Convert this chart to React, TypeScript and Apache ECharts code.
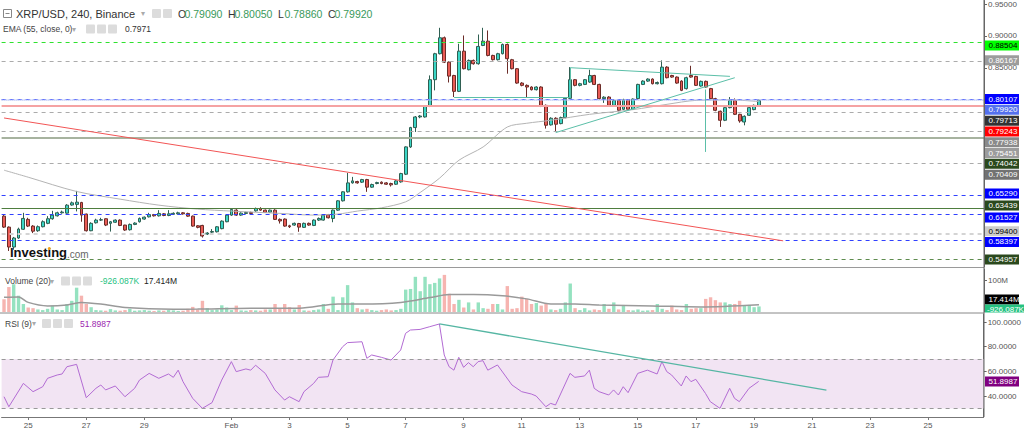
import React, { useEffect, useRef } from 'react';
import * as echarts from 'echarts';

// ---------- axis slots ----------
const SLOT_COUNT = 203; // 4h slots from 2022-01-24 04:00
const START = Date.UTC(2022, 0, 24, 4);
const HOUR4 = 4 * 3600 * 1000;

const tickDates = [
  [0, 25], [0, 27], [0, 29], [1, 1], [1, 3], [1, 5], [1, 7], [1, 9], [1, 11],
  [1, 13], [1, 15], [1, 17], [1, 19], [1, 21], [1, 23], [1, 25],
];
const tickLabels = ['25', '27', '29', 'Feb', '3', '5', '7', '9', '11', '13', '15', '17', '19', '21', '23', '25'];

// ---------- candles: [open, close, low, high] ----------
const candles: number[][] = [
  [0.6176, 0.6004, 0.5990, 0.6208], [0.6004, 0.5692, 0.5630, 0.6015], [0.5692, 0.5833, 0.5650, 0.5850],
  [0.5833, 0.5973, 0.5820, 0.5995], [0.5970, 0.6140, 0.5960, 0.6228], [0.6125, 0.6020, 0.6005, 0.6150],
  [0.6020, 0.5940, 0.5910, 0.6035], [0.5947, 0.6010, 0.5930, 0.6030], [0.6010, 0.6088, 0.6000, 0.6110],
  [0.6063, 0.6135, 0.6050, 0.6176], [0.6135, 0.6192, 0.6120, 0.6259], [0.6181, 0.6228, 0.6170, 0.6245],
  [0.6228, 0.6240, 0.6215, 0.6262], [0.6223, 0.6348, 0.6215, 0.6364], [0.6350, 0.6384, 0.6340, 0.6405],
  [0.6360, 0.6395, 0.6250, 0.6572], [0.6390, 0.6192, 0.6088, 0.6400], [0.6208, 0.5947, 0.5935, 0.6215],
  [0.5947, 0.6063, 0.5940, 0.6080], [0.6072, 0.6114, 0.6060, 0.6135], [0.6114, 0.6120, 0.6100, 0.6150],
  [0.6135, 0.6036, 0.6020, 0.6140], [0.6063, 0.6088, 0.5934, 0.6100], [0.6080, 0.6114, 0.6070, 0.6125],
  [0.6114, 0.6030, 0.6020, 0.6125], [0.6036, 0.5958, 0.5945, 0.6040], [0.5963, 0.6046, 0.5950, 0.6060],
  [0.6046, 0.6067, 0.6035, 0.6080], [0.6088, 0.6140, 0.6075, 0.6155], [0.6130, 0.6160, 0.6120, 0.6170],
  [0.6165, 0.6200, 0.6155, 0.6228], [0.6200, 0.6181, 0.6170, 0.6210], [0.6181, 0.6218, 0.6170, 0.6270],
  [0.6212, 0.6186, 0.6175, 0.6225], [0.6186, 0.6212, 0.6175, 0.6270], [0.6205, 0.6220, 0.6195, 0.6235],
  [0.6212, 0.6228, 0.6200, 0.6245], [0.6228, 0.6212, 0.6200, 0.6240], [0.6218, 0.6176, 0.6165, 0.6230],
  [0.6176, 0.6020, 0.6010, 0.6185], [0.6025, 0.6000, 0.5985, 0.6035], [0.6030, 0.5864, 0.5840, 0.6040],
  [0.5895, 0.5911, 0.5880, 0.5925], [0.5925, 0.5935, 0.5900, 0.5973], [0.5931, 0.6009, 0.5920, 0.6020],
  [0.5980, 0.6098, 0.5970, 0.6110], [0.6088, 0.6192, 0.6080, 0.6205], [0.6192, 0.6281, 0.6180, 0.6295],
  [0.6270, 0.6192, 0.6180, 0.6285], [0.6192, 0.6223, 0.6180, 0.6235], [0.6218, 0.6234, 0.6210, 0.6245],
  [0.6234, 0.6218, 0.6205, 0.6245], [0.6259, 0.6296, 0.6245, 0.6310], [0.6296, 0.6270, 0.6260, 0.6315],
  [0.6270, 0.6234, 0.6225, 0.6280], [0.6239, 0.6270, 0.6230, 0.6280], [0.6270, 0.6125, 0.6115, 0.6285],
  [0.6125, 0.6100, 0.6060, 0.6140], [0.6130, 0.6020, 0.6010, 0.6140], [0.6025, 0.6010, 0.5990, 0.6040],
  [0.6036, 0.6063, 0.6025, 0.6075], [0.6060, 0.6004, 0.5931, 0.6070], [0.6000, 0.6063, 0.5990, 0.6075],
  [0.6063, 0.6036, 0.6025, 0.6075], [0.6030, 0.6114, 0.6020, 0.6125], [0.6114, 0.6140, 0.6100, 0.6155],
  [0.6114, 0.6192, 0.6105, 0.6205], [0.6197, 0.6150, 0.6140, 0.6210], [0.6140, 0.6270, 0.6080, 0.6280],
  [0.6270, 0.6416, 0.6260, 0.6425], [0.6416, 0.6557, 0.6405, 0.6565], [0.6557, 0.6697, 0.6545, 0.6853],
  [0.6697, 0.6728, 0.6685, 0.6791], [0.6718, 0.6697, 0.6685, 0.6730], [0.6708, 0.6749, 0.6695, 0.6760],
  [0.6749, 0.6630, 0.6557, 0.6760], [0.6630, 0.6671, 0.6620, 0.6685], [0.6687, 0.6702, 0.6675, 0.6715],
  [0.6708, 0.6687, 0.6675, 0.6720], [0.6697, 0.6676, 0.6665, 0.6710], [0.6687, 0.6666, 0.6640, 0.6700],
  [0.6676, 0.6728, 0.6665, 0.6740], [0.6713, 0.6843, 0.6700, 0.6855], [0.6833, 0.7261, 0.6820, 0.7270],
  [0.7260, 0.7564, 0.7245, 0.7575], [0.7564, 0.7730, 0.7495, 0.7745], [0.7730, 0.7745, 0.7710, 0.7760],
  [0.7730, 0.7897, 0.7720, 0.7910], [0.7897, 0.8314, 0.7885, 0.8381], [0.8314, 0.8721, 0.8147, 0.8735],
  [0.8721, 0.8971, 0.8710, 0.9127], [0.8971, 0.8589, 0.8575, 0.8990], [0.8589, 0.8370, 0.8270, 0.8600],
  [0.8380, 0.8131, 0.8042, 0.8390], [0.8131, 0.8761, 0.8120, 0.8877], [0.8761, 0.8486, 0.8475, 0.9007],
  [0.8470, 0.8616, 0.8460, 0.8630], [0.8616, 0.8564, 0.8550, 0.8630], [0.8564, 0.8835, 0.8550, 0.9022],
  [0.8850, 0.8918, 0.8840, 0.9127], [0.8918, 0.8694, 0.8680, 0.9085], [0.8694, 0.8627, 0.8615, 0.8705],
  [0.8627, 0.8721, 0.8615, 0.8735], [0.8721, 0.8866, 0.8710, 0.8880], [0.8866, 0.8643, 0.8408, 0.8880],
  [0.8627, 0.8486, 0.8475, 0.8640], [0.8486, 0.8261, 0.8250, 0.8495], [0.8261, 0.8225, 0.8210, 0.8275],
  [0.8225, 0.8199, 0.8033, 0.8240], [0.8199, 0.8157, 0.8145, 0.8210], [0.8157, 0.8199, 0.8145, 0.8210],
  [0.8199, 0.7897, 0.7885, 0.8210], [0.7912, 0.7600, 0.7548, 0.7925], [0.7606, 0.7710, 0.7595, 0.7725],
  [0.7710, 0.7616, 0.7495, 0.7725], [0.7626, 0.7720, 0.7615, 0.7735], [0.7720, 0.8022, 0.7710, 0.8035],
  [0.8022, 0.8314, 0.8010, 0.8511], [0.8314, 0.8225, 0.8210, 0.8325], [0.8225, 0.8251, 0.8210, 0.8265],
  [0.8240, 0.8314, 0.8230, 0.8325], [0.8277, 0.8380, 0.8265, 0.8470], [0.8380, 0.8240, 0.8230, 0.8390],
  [0.8240, 0.8017, 0.8005, 0.8250], [0.8017, 0.8040, 0.7950, 0.8055], [0.8042, 0.7912, 0.7900, 0.8055],
  [0.7912, 0.7990, 0.7900, 0.8005], [0.7990, 0.7834, 0.7820, 0.8000], [0.7850, 0.8000, 0.7840, 0.8015],
  [0.8000, 0.7850, 0.7840, 0.8010], [0.7850, 0.8010, 0.7840, 0.8020], [0.8017, 0.8240, 0.8005, 0.8250],
  [0.8240, 0.8292, 0.8230, 0.8305], [0.8292, 0.8324, 0.8280, 0.8335], [0.8324, 0.8251, 0.8240, 0.8335],
  [0.8251, 0.8270, 0.8240, 0.8285], [0.8251, 0.8511, 0.8240, 0.8616], [0.8511, 0.8345, 0.8335, 0.8525],
  [0.8380, 0.8355, 0.8345, 0.8390], [0.8355, 0.8261, 0.8250, 0.8365], [0.8292, 0.8147, 0.8135, 0.8305],
  [0.8174, 0.8345, 0.8160, 0.8360], [0.8380, 0.8355, 0.8345, 0.8532], [0.8365, 0.8225, 0.8215, 0.8375],
  [0.8215, 0.8288, 0.8205, 0.8300], [0.8288, 0.8199, 0.8190, 0.8300], [0.8174, 0.8017, 0.8005, 0.8185],
  [0.8017, 0.7834, 0.7820, 0.8030], [0.7819, 0.7678, 0.7574, 0.7830], [0.7678, 0.7876, 0.7665, 0.7890],
  [0.7876, 0.7990, 0.7865, 0.8042], [0.7990, 0.7771, 0.7760, 0.8020], [0.7771, 0.7667, 0.7640, 0.7780],
  [0.7651, 0.7740, 0.7599, 0.7755], [0.7756, 0.7876, 0.7745, 0.7890], [0.7845, 0.7912, 0.7835, 0.7925],
  [0.7909, 0.7992, 0.7886, 0.8005],
];

// ---------- volume (millions) ----------
const volumes: number[] = [
  40, 78, 87, 51, 25, 14, 12, 8, 6, 10, 20, 8, 6, 25, 35, 76, 51, 25, 15, 6,
  5, 4, 9, 5, 4, 6, 10, 4, 5, 6, 4, 3, 5, 4, 6, 5, 3, 4, 10, 16,
  8, 35, 12, 6, 8, 21, 14, 6, 20, 5, 4, 6, 5, 4, 8, 8, 25, 12, 25, 15,
  8, 22, 5, 4, 6, 8, 25, 10, 48, 6, 46, 84, 30, 12, 8, 10, 6, 4, 6, 8,
  5, 6, 10, 70, 72, 110, 65, 110, 87, 91, 105, 116, 57, 25, 38, 14, 30, 8, 30, 12,
  10, 25, 25, 8, 81, 10, 12, 48, 41, 25, 28, 20, 25, 8, 6, 10, 30, 89, 12, 6,
  12, 5, 8, 6, 25, 10, 30, 8, 22, 6, 5, 8, 4, 5, 6, 25, 10, 6, 20, 8,
  6, 25, 10, 12, 12, 41, 46, 37, 30, 30, 25, 25, 35, 20, 22, 15, 17.414,
];

// ---------- indicator readings [slot index, value] ----------
const emaPoints: number[][] = [
  [0, 0.6896], [5, 0.6786], [15, 0.6562], [24, 0.6442], [32, 0.6348], [40, 0.6286], [47, 0.6255],
  [57, 0.6219], [64, 0.6192], [69, 0.6208], [73, 0.6255], [78, 0.6306], [83, 0.6400], [86, 0.6547],
  [90, 0.6771], [94, 0.7052], [99, 0.7260], [104, 0.7573], [108, 0.7631], [113, 0.7678], [121, 0.7771],
  [130, 0.7845], [137, 0.7928], [143, 0.7990], [150, 0.7998], [156, 0.7971],
];
const volMaPoints: number[][] = [
  [0, 46], [3, 47], [5, 30], [9, 19], [13, 22], [16, 30], [20, 25], [25, 14], [35, 8.7], [40, 9],
  [51, 12], [61, 12], [69, 25], [74, 25], [82, 30], [88, 45], [92, 55], [97, 55], [103, 51], [108, 41],
  [113, 25], [118, 25], [123, 22], [134, 19], [144, 16], [156, 23],
];
const rsiPoints: number[][] = [
  [0, 39.5], [1, 31.4], [4, 50.3], [6, 43.6], [8, 47.6], [9, 54.4], [11, 57.1], [12, 57.9], [13, 63.8],
  [15, 65.7], [17, 38.7], [19, 46.3], [20, 49], [21, 45], [23, 48.2], [25, 39.5], [27, 46.3], [28, 53],
  [30, 58.4], [32, 54.4], [34, 57.9], [35, 55.2], [36, 61], [37, 51.7], [39, 38.2], [41, 30.1], [43, 34.7],
  [45, 53], [47, 67.9], [48, 59.8], [50, 62], [51, 61], [52, 65], [54, 58.4], [56, 45], [58, 36.8],
  [59, 39.5], [61, 35.5], [62, 43.6], [64, 50.3], [65, 55.2], [67, 55.7], [68, 69.2], [70, 80], [71, 83.3],
  [74, 84], [75, 70.6], [76, 73.3], [78, 71.4], [80, 69.2], [82, 77.3], [83, 90.8], [84, 93.5], [86, 94],
  [88, 96.2], [90, 98.4], [91, 73.3], [92, 63.8], [93, 61], [94, 71.4], [95, 63.3], [96, 67.1], [97, 63.8],
  [98, 67.9], [99, 68.7], [100, 61], [102, 65.2], [105, 49], [107, 43.6], [109, 41.7], [110, 40.1],
  [112, 31.4], [113, 34.1], [114, 32.8], [117, 58.4], [118, 55.2], [120, 56.3], [121, 61], [122, 46.3],
  [123, 43.6], [125, 40.9], [126, 45], [127, 40.9], [128, 47.6], [129, 42.8], [131, 58.4], [133, 61],
  [135, 57.9], [136, 67.9], [137, 59.8], [138, 57.1], [140, 48.2], [141, 56.3], [142, 51.7], [143, 53.6],
  [145, 42.2], [146, 35.5], [148, 30.1], [150, 46.3], [151, 38.2], [152, 35.5], [154, 46.3], [156, 51.9],
];

// ---------- horizontal levels ----------
const priceLevels = [
  { value: 0.88504, kind: 'lime' },
  { value: 0.86167, kind: 'gray' },
  { value: 0.80107, kind: 'blue' },
  { value: 0.79920, kind: 'price' },
  { value: 0.79713, kind: 'ema' },
  { value: 0.79243, kind: 'red' },
  { value: 0.77938, kind: 'gray2' },
  { value: 0.75451, kind: 'gray' },
  { value: 0.74042, kind: 'olive' },
  { value: 0.70409, kind: 'gray3' },
  { value: 0.65290, kind: 'blue' },
  { value: 0.63439, kind: 'greenSolid' },
  { value: 0.61527, kind: 'blue' },
  { value: 0.59400, kind: 'light' },
  { value: 0.58397, kind: 'blue' },
  { value: 0.54957, kind: 'greenDash' },
];

// ---------- drawn segments [[slot, value], [slot, value]] ----------
const redTrend = [[0, 0.7714], [161, 0.5789]];
const triangleSegments = [
  [[117, 0.8502], [150, 0.8366]],
  [[114, 0.7485], [151, 0.8345]],
  [[117, 0.8502], [117, 0.8033]],
  [[93, 0.8042], [117, 0.8042]],
  [[145, 0.8160], [145, 0.7182]],
];
const rsiTrend = [[90, 98.4], [170, 44.9]];
const rsiBand = [30, 70];

// header values
const headerOHLC = [['O', '0.79090'], ['H', '0.80050'], ['L', '0.78860'], ['C', '0.79920']];
const emaLast = '0.7971';
const volDelta = '-926.087K';
const volLast = 17.414;
const rsiLast = 51.8987;

// ---------- styles ----------
const FONT = '"Liberation Sans", Arial, sans-serif';
const dash = [4, 4];
const levelStyle: Record<string, any> = {
  lime: { line: { color: '#2fe22f', type: dash, width: 1 }, bg: '#00ff00', fg: '#000' },
  gray: { line: { color: '#ababab', type: dash, width: 1 }, bg: '#9c9c9c', fg: '#fff' },
  gray2: { line: { color: '#ababab', type: dash, width: 1 }, bg: '#8a8a8a', fg: '#fff' },
  gray3: { line: { color: '#ababab', type: dash, width: 1 }, bg: '#727272', fg: '#fff' },
  blue: { line: { color: '#3040ff', type: dash, width: 1 }, bg: '#0000ff', fg: '#fff' },
  price: { line: { color: '#b3c0f6', type: [1, 1], width: 2 }, bg: '#5470ee', fg: '#fff' },
  ema: { line: null, bg: '#333333', fg: '#fff' },
  red: { line: { color: '#f5a3a3', type: 'solid', width: 2 }, bg: '#ff0000', fg: '#fff' },
  olive: { line: { color: '#a7b39f', type: 'solid', width: 2 }, bg: '#2b491d', fg: '#fff' },
  greenSolid: { line: { color: '#4e7d3e', type: 'solid', width: 1 }, bg: '#2b491d', fg: '#fff' },
  light: { line: { color: '#d4d4d4', type: dash, width: 2 }, bg: '#cccccc', fg: '#000' },
  greenDash: { line: { color: '#5e8c4e', type: dash, width: 1 }, bg: '#2b491d', fg: '#fff' },
};

const GRID_LEFT = 1.6;
const GRID_W = 982.4;
const AXIS_X = GRID_LEFT + GRID_W;

function sparse(points: number[][]) {
  const arr: (number | null)[] = new Array(SLOT_COUNT).fill(null);
  points.forEach(([i, v]) => { arr[i] = v; });
  return arr;
}

export default function App() {
  const ref = useRef<HTMLDivElement>(null);

  useEffect(() => {
    document.body.style.margin = '0';
    if (!ref.current) return;
    const chart = echarts.init(ref.current, null, { renderer: 'svg' });

    const categories = Array.from({ length: SLOT_COUNT }, (_, i) => {
      const d = new Date(START + i * HOUR4);
      return `${d.getUTCMonth() + 1}/${d.getUTCDate()} ${d.getUTCHours()}h`;
    });
    const tickMap: Record<number, string> = {};
    tickDates.forEach(([m, day], k) => {
      const idx = Math.round((Date.UTC(2022, m, day) - START) / HOUR4);
      tickMap[idx] = tickLabels[k];
    });

    const upColor = '#3ad6c6';
    const downColor = '#e95a54';

    const seg = (s: number[][], style: any) => [
      { coord: s[0], lineStyle: style },
      { coord: s[1] },
    ];
    const teal = { color: '#5bbfa8', width: 1, type: 'solid' };

    const xBase = (gi: number) => ({
      type: 'category',
      gridIndex: gi,
      data: categories,
      boundaryGap: true,
      axisLine: { show: false },
      axisTick: { show: false },
      axisLabel: { show: false },
      splitLine: { show: false },
    });

    const option: any = {
      animation: false,
      textStyle: { fontFamily: FONT },
      grid: [
        { left: GRID_LEFT, width: GRID_W, top: 0, height: 267 },
        { left: GRID_LEFT, width: GRID_W, top: 269, height: 43 },
        { left: GRID_LEFT, width: GRID_W, top: 314, height: 103 },
      ],
      xAxis: [
        xBase(0),
        xBase(1),
        {
          ...xBase(2),
          axisLine: { show: true, lineStyle: { color: '#777', width: 1 } },
          axisTick: {
            show: true, alignWithLabel: true, length: 3,
            interval: (i: number) => tickMap[i] !== undefined,
            lineStyle: { color: '#777' },
          },
          axisLabel: {
            show: true, fontSize: 8, color: '#555', margin: 4, fontFamily: FONT,
            interval: (i: number) => tickMap[i] !== undefined,
            formatter: (_v: string, i: number) => tickMap[i] ?? '',
          },
        },
      ],
      yAxis: [
        {
          type: 'value', gridIndex: 0, position: 'right',
          min: 0.537894, max: 0.955407,
          splitLine: { show: false },
          axisLine: { show: true, lineStyle: { color: '#666' } },
          axisTick: { show: true, length: 3, customValues: [0.85, 0.9, 0.95], lineStyle: { color: '#666' } },
          axisLabel: {
            customValues: [0.85, 0.9, 0.95], fontSize: 8, color: '#555', margin: 4, fontFamily: FONT,
            formatter: (v: number) => v.toFixed(5),
          },
        },
        {
          type: 'value', gridIndex: 1, position: 'right', min: 0, max: 134.4,
          splitLine: { show: false },
          axisLine: { show: true, lineStyle: { color: '#666' } },
          axisTick: { show: true, length: 3, customValues: [100], lineStyle: { color: '#666' } },
          axisLabel: {
            customValues: [100], fontSize: 8, color: '#555', margin: 4, fontFamily: FONT,
            formatter: (v: number) => `${v}M`,
          },
        },
        {
          type: 'value', gridIndex: 2, position: 'right', min: 23.08, max: 106.48,
          splitLine: { show: false },
          axisLine: { show: true, lineStyle: { color: '#666' } },
          axisTick: { show: true, length: 3, customValues: [40, 60, 80, 100], lineStyle: { color: '#666' } },
          axisLabel: {
            customValues: [40, 60, 80, 100], fontSize: 8, color: '#555', margin: 4, fontFamily: FONT,
            formatter: (v: number) => v.toFixed(4),
          },
        },
      ],
      series: [
        {
          type: 'candlestick', name: 'XRP/USD', xAxisIndex: 0, yAxisIndex: 0,
          data: candles, barWidth: 3.4,
          itemStyle: {
            color: upColor, color0: downColor,
            borderColor: '#2f5f52', borderColor0: '#6b2c28', borderWidth: 1,
          },
          markLine: {
            symbol: ['none', 'none'], silent: true, animation: false,
            label: { show: false }, emphasis: { disabled: true },
            data: [
              ...priceLevels
                .filter((l) => levelStyle[l.kind].line)
                .map((l) => ({ yAxis: l.value, lineStyle: levelStyle[l.kind].line })),
              seg(redTrend, { color: '#f25555', width: 1, type: 'solid' }),
              ...triangleSegments.map((s) => seg(s, teal)),
            ],
          },
        },
        {
          type: 'line', name: 'EMA 55', xAxisIndex: 0, yAxisIndex: 0,
          data: sparse(emaPoints), connectNulls: true, smooth: 0.3, showSymbol: false, symbol: 'none',
          lineStyle: { color: '#b4b4b4', width: 1 }, z: 3,
        },
        {
          type: 'bar', name: 'Volume', xAxisIndex: 1, yAxisIndex: 1, barWidth: 3.4,
          data: volumes.map((v, i) => ({
            value: v,
            itemStyle: { color: candles[i][1] >= candles[i][0] ? '#95e2c0' : '#f6b4b0' },
          })),
        },
        {
          type: 'line', name: 'Volume MA', xAxisIndex: 1, yAxisIndex: 1,
          data: sparse(volMaPoints), connectNulls: true, smooth: 0.3, symbol: 'none',
          lineStyle: { color: '#9a9a9a', width: 1.5 },
        },
        {
          type: 'line', name: 'RSI 9', xAxisIndex: 2, yAxisIndex: 2,
          data: sparse(rsiPoints), connectNulls: true, symbol: 'none',
          lineStyle: { color: '#b26bd3', width: 1 }, z: 4,
          markArea: {
            silent: true,
            itemStyle: { color: '#f2e4f3' },
            data: [[{ yAxis: rsiBand[0] }, { yAxis: rsiBand[1] }]],
          },
          markLine: {
            symbol: ['none', 'none'], silent: true, label: { show: false },
            data: [
              { yAxis: rsiBand[1], lineStyle: { color: '#999', type: dash, width: 1 } },
              { yAxis: rsiBand[0], lineStyle: { color: '#999', type: dash, width: 1 } },
              seg(rsiTrend, { color: '#55b6a3', width: 1.3, type: 'solid' }),
            ],
          },
        },
      ],
    };

    chart.setOption(option);

    // ---------- graphic overlay ----------
    const g: any[] = [];
    const Z = 100;
    const txt = (x: number, y: number, text: string, fill: string, size: number, extra: any = {}) => ({
      type: 'text', x, y, z: Z,
      style: { text, fill, fontSize: size, fontFamily: FONT, verticalAlign: 'middle', align: 'left', ...extra },
    });
    const icon = (x: number, y: number) => ({
      type: 'rect', z: Z, shape: { x, y: y - 4.5, width: 9, height: 9, r: 1 }, style: { fill: '#dcdcdc' },
    });
    const caret = (x: number, y: number) => txt(x, y, '▾', '#aaa', 8, { fontFamily: '"DejaVu Sans", sans-serif' });

    // separators & right border
    g.push({ type: 'line', z: Z, shape: { x1: 0, y1: 267.5, x2: AXIS_X, y2: 267.5 }, style: { stroke: '#9a9a9a', lineWidth: 1 } });
    g.push({ type: 'line', z: Z, shape: { x1: 0, y1: 313, x2: AXIS_X, y2: 313 }, style: { stroke: '#888', lineWidth: 1 } });
    g.push({ type: 'line', z: Z, shape: { x1: AXIS_X, y1: 0, x2: AXIS_X, y2: 417 }, style: { stroke: '#666', lineWidth: 1 } });

    // title row
    g.push({ type: 'rect', z: Z, shape: { x: 3.5, y: 9.5, width: 8, height: 8 }, style: { fill: 'none', stroke: '#888', lineWidth: 1 } });
    g.push({ type: 'line', z: Z, shape: { x1: 5.5, y1: 13.5, x2: 9.5, y2: 13.5 }, style: { stroke: '#888', lineWidth: 1 } });
    g.push(txt(16, 13.5, 'XRP/USD, 240, Binance', '#333', 11));
    g.push(caret(141, 13.5));
    g.push(icon(152, 13.5), icon(163, 13.5));
    headerOHLC.forEach(([k, v], n) => {
      const x0 = 178 + n * 50;
      g.push(txt(x0, 13.5, k, '#333', 10.5));
      g.push(txt(x0 + 6.5, 13.5, v, '#3a9a5c', 10.5));
    });
    // EMA row
    g.push(txt(3, 29, 'EMA (55, close, 0)', '#444', 8.5));
    g.push(caret(72, 29));
    g.push(icon(86, 29), icon(97, 29), icon(108, 29));
    g.push(txt(125, 29, emaLast, '#333', 8.5));
    // volume row
    g.push(txt(5, 281, 'Volume (20)', '#444', 8.5));
    g.push(caret(50, 281));
    g.push(icon(61, 281), icon(72, 281), icon(83, 281));
    g.push(txt(100, 281, volDelta, '#26c281', 8.5));
    g.push(txt(144, 281, `${volLast.toFixed(3)}M`, '#222', 8.5));
    // rsi row
    g.push(txt(5, 323.5, 'RSI (9)', '#444', 8.5));
    g.push(caret(32, 323.5));
    g.push(icon(42, 323.5), icon(53, 323.5), icon(64, 323.5));
    g.push(txt(80, 323.5, rsiLast.toFixed(4), '#9c27b0', 8.5));

    // logo
    g.push({ type: 'text', x: 10, y: 259, z: Z, style: { text: 'Investing', fill: '#111', fontSize: 13, fontWeight: 'bold', fontFamily: FONT, verticalAlign: 'bottom' } });
    g.push({ type: 'text', x: 67, y: 259, z: Z, style: { text: '.com', fill: '#666', fontSize: 10, fontFamily: FONT, verticalAlign: 'bottom' } });
    g.push({ type: 'circle', z: Z + 1, shape: { cx: 49.3, cy: 248.6, r: 1.5 }, style: { fill: '#f2a21a' } });

    // price level labels, spread to avoid overlap
    const sorted = [...priceLevels].sort((a, b) => b.value - a.value);
    let prev = -Infinity;
    sorted.forEach((l) => {
      const yy = chart.convertToPixel({ yAxisIndex: 0 }, l.value) as number;
      const y = Math.max(yy, prev + 10.8);
      prev = y;
      const st = levelStyle[l.kind];
      g.push({ type: 'rect', z: Z, shape: { x: AXIS_X + 1, y: y - 5, width: 34, height: 10 }, style: { fill: st.bg } });
      g.push(txt(AXIS_X + 4.5, y, l.value.toFixed(5), st.fg, 8));
    });

    // volume labels (stacked above the pane bottom)
    const yv = chart.convertToPixel({ yAxisIndex: 1 }, volLast) as number;
    const volTop = Math.min(yv - 7, 299.5);
    g.push({ type: 'rect', z: Z, shape: { x: AXIS_X + 1, y: volTop - 5, width: 34, height: 10 }, style: { fill: '#000' } });
    g.push(txt(AXIS_X + 4.5, volTop, `${volLast.toFixed(3)}M`, '#fff', 8));
    g.push({ type: 'rect', z: Z, shape: { x: AXIS_X + 1, y: volTop + 5, width: 40, height: 8 }, style: { fill: '#26c281' } });
    g.push(txt(AXIS_X + 3, volTop + 10, volDelta, '#fff', 8));

    // rsi label
    const yr = chart.convertToPixel({ yAxisIndex: 2 }, rsiLast) as number;
    g.push({ type: 'rect', z: Z, shape: { x: AXIS_X + 1, y: yr - 5, width: 34, height: 10 }, style: { fill: '#800080' } });
    g.push(txt(AXIS_X + 4.5, yr, rsiLast.toFixed(4), '#fff', 8));

    chart.setOption({ graphic: g });

    return () => chart.dispose();
  }, []);

  return <div ref={ref} style={{ width: 1024, height: 429 }} />;
}
